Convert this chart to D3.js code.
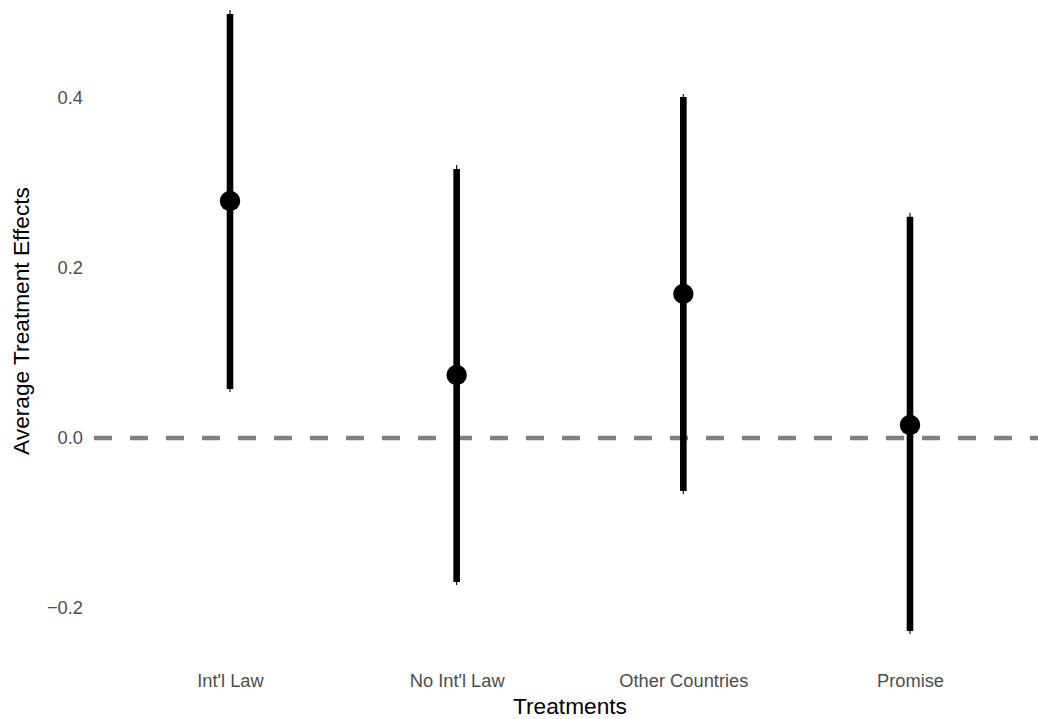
<!DOCTYPE html>
<html>
<head>
<meta charset="utf-8">
<script src="https://cdn.jsdelivr.net/npm/d3@7"></script>
<style>
  html, body { margin: 0; padding: 0; background: #ffffff; }
  svg { display: block; font-family: "Liberation Sans", Arial, Helvetica, sans-serif; }
</style>
</head>
<body>
<svg id="chart" width="1038" height="719"></svg>
<script>
// Treatment categories and their estimated effects
const treatments = ["Int'l Law", "No Int'l Law", "Other Countries", "Promise"];
const estimates  = [0.2788, 0.0741, 0.1696, 0.0153];
// Inner (thick) interval bounds
const innerLow   = [0.0576, -0.1694, -0.0624, -0.2271];
const innerHigh  = [0.4988, 0.3165, 0.4012, 0.2604];
// Outer (thin) interval bounds
const outerLow   = [0.0541, -0.1730, -0.0659, -0.2306];
const outerHigh  = [0.5035, 0.3212, 0.4047, 0.2651];
// Y axis ticks
const yTicks = [-0.2, 0.0, 0.2, 0.4];
const yTickLabels = ["\u22120.2", "0.0", "0.2", "0.4"];

const svg = d3.select("#chart");
const W = 1038, H = 719;
const tickFont = "18.3px";
const titleFont = "22.7px";

const x = d3.scalePoint()
  .domain(treatments)
  .range([94, 1046])
  .padding(0.6);

const y = d3.scaleLinear()
  .domain([-0.2, 0.4])
  .range([608, 98]);

const rows = treatments.map((t, i) => ({
  t, est: estimates[i],
  lo: innerLow[i], hi: innerHigh[i],
  lo2: outerLow[i], hi2: outerHigh[i]
}));

// Reference line at zero
svg.append("line")
  .attr("x1", 94).attr("x2", W)
  .attr("y1", y(0)).attr("y2", y(0))
  .attr("stroke", "#808080")
  .attr("stroke-width", 4.5)
  .attr("stroke-dasharray", "18,18");

// Outer interval (thin)
svg.append("g").selectAll("line").data(rows).join("line")
  .attr("x1", d => x(d.t)).attr("x2", d => x(d.t))
  .attr("y1", d => y(d.lo2)).attr("y2", d => y(d.hi2))
  .attr("stroke", "#000").attr("stroke-width", 1.1);

// Inner interval (thick)
svg.append("g").selectAll("line").data(rows).join("line")
  .attr("x1", d => x(d.t)).attr("x2", d => x(d.t))
  .attr("y1", d => y(d.lo)).attr("y2", d => y(d.hi))
  .attr("stroke", "#000").attr("stroke-width", 6.6);

// Point estimates
svg.append("g").selectAll("circle").data(rows).join("circle")
  .attr("cx", d => x(d.t)).attr("cy", d => y(d.est))
  .attr("r", 10.2)
  .attr("fill", "#000");

// Y axis (labels only)
const yAxis = d3.axisLeft(y)
  .tickValues(yTicks)
  .tickFormat((d, i) => yTickLabels[i])
  .tickSize(0)
  .tickPadding(0);
const gy = svg.append("g").attr("transform", "translate(83,0)").call(yAxis);
gy.select(".domain").remove();
gy.selectAll("text")
  .attr("fill", "#4d4d4d")
  .style("font-size", tickFont)
  .style("font-family", "'Liberation Sans', Arial, sans-serif");

// X axis (labels only)
const xAxis = d3.axisBottom(x).tickSize(0).tickPadding(0);
const gx = svg.append("g").attr("transform", "translate(0,674)").call(xAxis);
gx.select(".domain").remove();
gx.selectAll("text")
  .attr("fill", "#4d4d4d")
  .style("font-size", tickFont)
  .style("font-family", "'Liberation Sans', Arial, sans-serif");

// Axis titles
svg.append("text")
  .attr("x", 570).attr("y", 714)
  .attr("text-anchor", "middle")
  .attr("fill", "#000")
  .style("font-size", titleFont)
  .text("Treatments");

svg.append("text")
  .attr("transform", "translate(29,321) rotate(-90)")
  .attr("text-anchor", "middle")
  .attr("fill", "#000")
  .style("font-size", titleFont)
  .text("Average Treatment Effects");
</script>
</body>
</html>
